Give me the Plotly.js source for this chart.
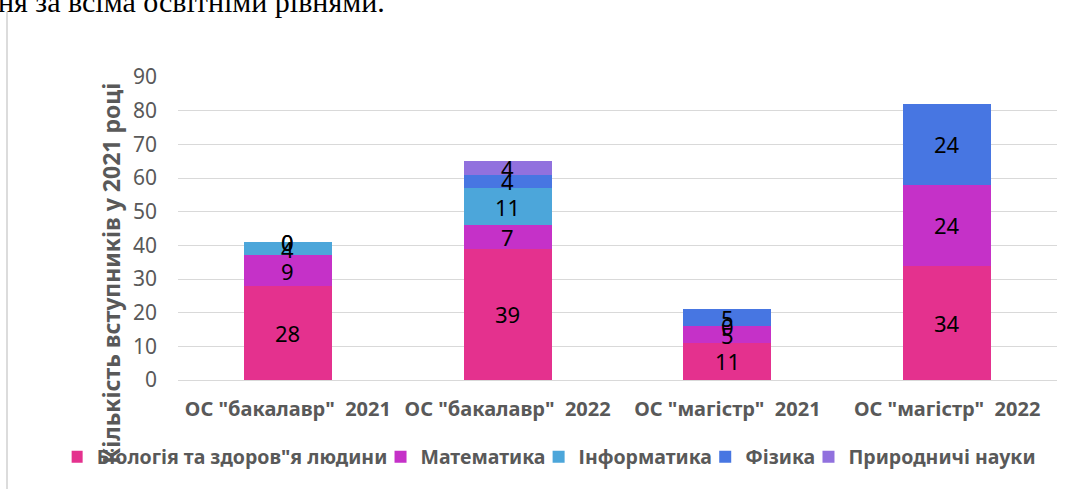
<!DOCTYPE html>
<html>
<head>
<meta charset="utf-8">
<script src="https://cdn.plot.ly/plotly-3.0.1.min.js"></script>
<style>
  html, body { margin: 0; padding: 0; background: #fff; }
  #page { position: relative; width: 1072px; height: 489px; overflow: hidden; }
  #topline { position: absolute; left: -2px; top: -15px; font-family: "Liberation Serif", serif; font-size: 30px; color: #000; white-space: nowrap; }
  #bar { position: absolute; left: 6px; top: 12px; width: 2px; height: 480px; background: #dcdcdc; }
  #chart { position: absolute; left: 0; top: 0; width: 1072px; height: 489px; }
</style>
</head>
<body>
<div id="page">
  <div id="chart"></div>
  <div id="topline">ня за всіма освітніми рівнями.</div>
  <div id="bar"></div>
</div>
<script>
const categories = ['ОС "бакалавр"  2021', 'ОС "бакалавр"  2022', 'ОС "магістр"  2021', 'ОС "магістр"  2022'];
const seriesNames = ['Біологія та здоров"я людини', 'Математика', 'Інформатика', 'Фізика', 'Природничі науки'];
const biology = [28, 39, 11, 34];
const maths = [9, 7, 5, 24];
const informatics = [4, 11, 0, null];
const physics = [0, 4, 5, 24];
const nature = [0, 4, null, null];
const colors = ['#E4318E', '#C531C8', '#4CA6DA', '#4776E2', '#9171DE'];

const allValues = [biology, maths, informatics, physics, nature];
const font = "Noto Sans, sans-serif";

const traces = allValues.map(function (vals, i) {
  return {
    type: 'bar',
    // a trailing thin space widens the gap between legend entries a little
    name: seriesNames[i] + (i < seriesNames.length - 1 ? '\u2009' : ''),
    x: categories,
    y: vals,
    marker: { color: colors[i] },
    hoverinfo: 'x+y+name'
  };
});

// value labels, centred in each segment (zeros shown too, like Excel)
const annotations = [];
const base = [0, 0, 0, 0];
allValues.forEach(function (vals) {
  vals.forEach(function (v, j) {
    if (v === null) return;
    annotations.push({
      x: categories[j], y: base[j] + v / 2,
      xref: 'x', yref: 'y',
      text: String(v), showarrow: false,
      font: { family: font, size: 22, color: '#000' }
    });
    base[j] += v;
  });
});

annotations.push({
  text: 'Кількість вступників у 2021 році',
  xref: 'paper', yref: 'paper',
  x: -0.0762, y: 0.351, xanchor: 'center', yanchor: 'middle', textangle: -90,
  showarrow: false,
  font: { family: font, size: 23, color: '#595959', weight: 'bold' }
});

const layout = {
  width: 1072, height: 489,
  barmode: 'stack',
  bargap: 0.6,
  margin: { l: 178, r: 15, t: 77, b: 109, autoexpand: false },
  paper_bgcolor: 'rgba(0,0,0,0)',
  plot_bgcolor: '#fff',
  showlegend: true,
  legend: {
    orientation: 'h',
    x: -0.121, xanchor: 'left', y: -0.254, yanchor: 'middle',
    font: { family: font, size: 19.5, color: '#595959', weight: 'bold' },
    itemwidth: 30, traceorder: 'normal', indentation: -15
  },
  xaxis: {
    type: 'category',
    tickfont: { family: font, size: 20, color: '#595959', weight: 'bold' },
    ticklabelstandoff: 15,
    showline: false, showgrid: false, ticks: ''
  },
  yaxis: {
    range: [0, 90], dtick: 10,
    tickfont: { family: font, size: 21, color: '#595959' },
    ticklabelstandoff: 20,
    gridcolor: '#d9d9d9', gridwidth: 1,
    zeroline: true, zerolinecolor: '#d9d9d9', zerolinewidth: 1,
    showline: false, ticks: ''
  },
  annotations: annotations
};

Plotly.newPlot('chart', traces, layout, { displayModeBar: false, staticPlot: true });
</script>
</body>
</html>
